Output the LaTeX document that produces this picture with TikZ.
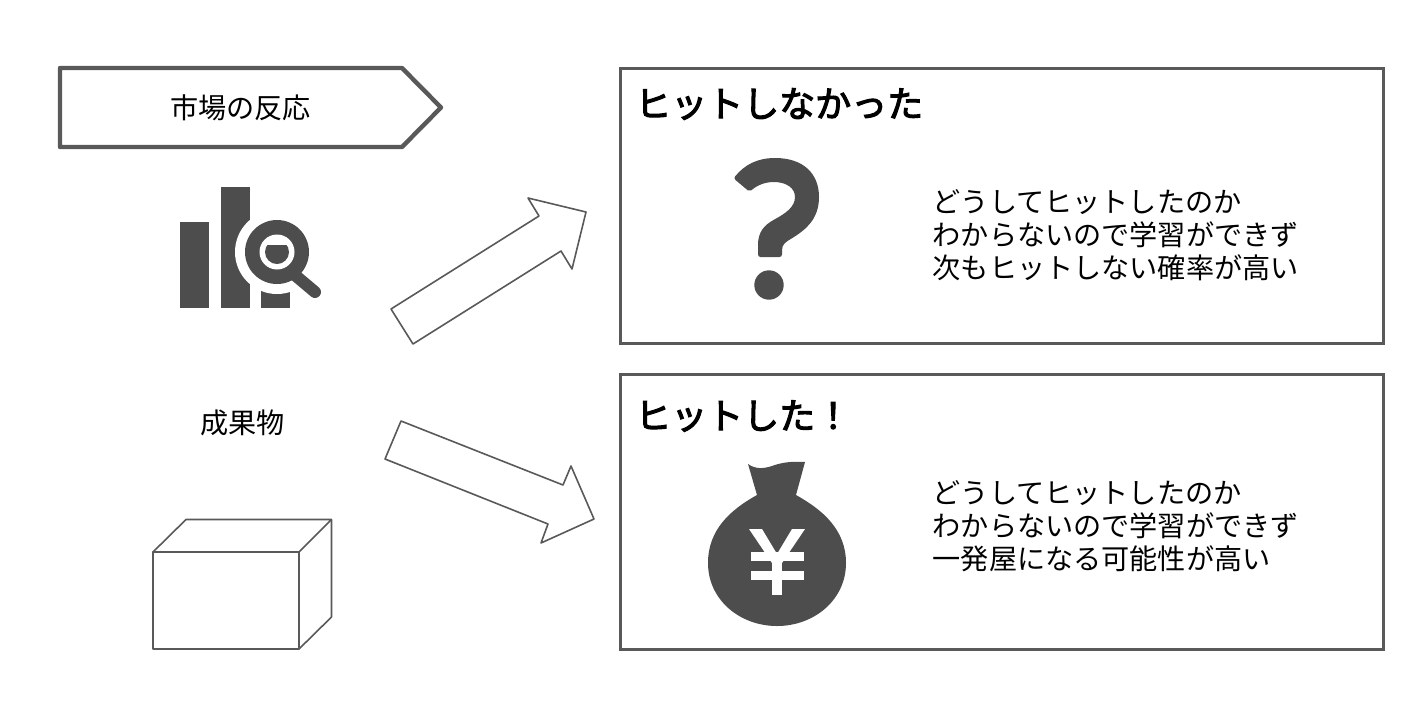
\documentclass[tikz,border=0pt]{standalone}
\usepackage{fontspec}
\usepackage{xcolor}
\setmainfont{Noto Sans CJK JP}
\newfontfamily\titlefont[FakeBold=3]{Noto Sans CJK JP}
\usetikzlibrary{positioning}

\definecolor{framegray}{HTML}{595959}
\definecolor{icongray}{HTML}{4D4D4D}

\tikzset{
    bodytext/.style={inner sep=0pt, align=left, font=\fontsize{28.15}{33}\selectfont},
    titletext/.style={inner sep=0pt, anchor=west, font=\fontsize{36}{40}\titlefont},
    resultbox/.style={rectangle, draw=framegray, line width=3pt, minimum width=763pt, minimum height=275pt},
    thinline/.style={draw=framegray, line width=1.6pt, line join=round},
    iconfill/.style={fill=icongray, draw=none}
}

\begin{document}
\begin{tikzpicture}[x=1pt, y=-1pt]
    \useasboundingbox (0,0) rectangle (1422,724);

    % left column
    \draw [framegray, line width=4.4pt, line join=round] (60,68) -- (402,68) -- (441,107.5) -- (402,147) -- (60,147) -- cycle;
    \node [bodytext] (reaction) at (240.5,107.5) {市場の反応};
    \node [bodytext] (product) at (242.5,422.5) {成果物};

    % chart icon
    \fill [iconfill] (180,222) rectangle (209,308);
    \fill [iconfill] (221,187) rectangle (250,308);
    \fill [iconfill] (261,280) rectangle (290,308);
    \fill [white] (277,252) circle (42);
    \draw [icongray, line width=12pt, line cap=round] (296,276) -- (315,292);
    \fill [iconfill] (277,252) circle (32);
    \fill [white] (277,252) circle (17.5);
    \begin{scope}
        \clip (260,245) rectangle (295,270);
        \fill [iconfill] (277,252) circle (12);
    \end{scope}

    % box
    \draw [thinline] (153,552) rectangle (299,649);
    \draw [thinline] (153,552) -- (186,519.5) -- (331.5,519.5) -- (299,552);
    \draw [thinline] (331.5,519.5) -- (331.5,617) -- (299,649);

    % block arrows
    \draw [thinline] (391,309) -- (413,344) -- (561,251) -- (572,269) -- (586,212) -- (528,198) -- (539,216) -- cycle;
    \draw [thinline] (401,421) -- (385,459) -- (548,524) -- (541,543) -- (594,519) -- (571,466) -- (563,485) -- cycle;

    % upper result
    \node [resultbox] (miss) at (1001.5,205.5) {};
    \node [titletext] (missTitle) at (635,104) {ヒットしなかった};
    \node [bodytext, anchor=west] (missText) at (932.5,235) {どうしてヒットしたのか\\わからないので学習ができず\\次もヒットしない確率が高い};
    \filldraw [fill=icongray, draw=icongray, line width=5pt, line join=round]
        (737,178) .. controls (746,167) and (758,160.5) .. (775,160.5)
        .. controls (802,160.5) and (816.5,175) .. (816.5,197)
        .. controls (816.5,218) and (804,228) .. (790,236.5)
        .. controls (784,240) and (779.5,243) .. (779.5,250)
        -- (779.5,254.5) -- (760.5,254.5) -- (760.5,245)
        .. controls (760.5,233) and (766,227) .. (775,222)
        .. controls (786,216) and (797.5,209) .. (797.5,197)
        .. controls (797.5,186) and (787,179.5) .. (774,179.5)
        .. controls (764,179.5) and (756,183) .. (749.5,188.5) -- cycle;
    \fill [iconfill] (769,285) circle (14.7);

    % lower result
    \node [resultbox] (hit) at (1001.5,511.5) {};
    \node [titletext] (hitTitle) at (635,416) {ヒットした！};
    \node [bodytext, anchor=west] (hitText) at (932.5,526) {どうしてヒットしたのか\\わからないので学習ができず\\一発屋になる可能性が高い};
    \fill [iconfill] (757,495) .. controls (730,510) and (708,530) .. (708,563)
        .. controls (708,600) and (740,626) .. (777,626)
        .. controls (814,626) and (846,600) .. (846,563)
        .. controls (846,530) and (823,510) .. (796,495)
        -- (805,462) .. controls (790,461) and (780,463) .. (772,466)
        .. controls (763,469) and (755,469) .. (748,464) -- cycle;
    \fill [white] (749,529) -- (762,529) -- (777,554) -- (792,529) -- (805,529) -- (782,563) -- (772,563) -- cycle;
    \fill [white] (751,552) rectangle (804,561);
    \fill [white] (751,571) rectangle (804,580);
    \fill [white] (772,556) rectangle (782,595);
\end{tikzpicture}
\end{document}
